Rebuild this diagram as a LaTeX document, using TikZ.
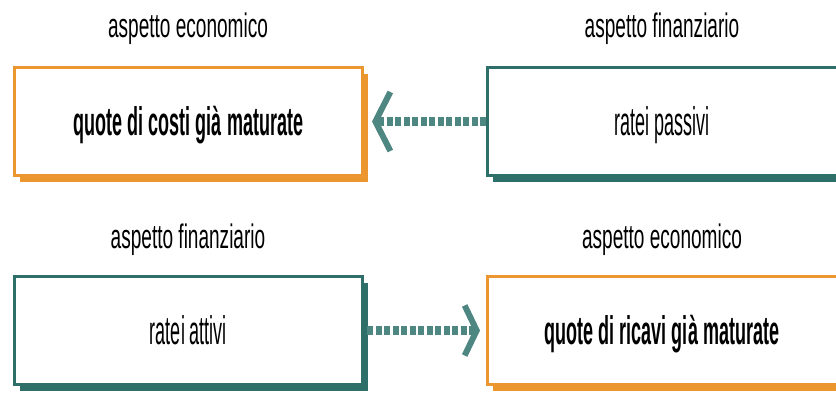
\documentclass[tikz,border=0pt]{standalone}
\usepackage{fontspec}
\setmainfont{Liberation Sans}
\newfontfamily\labelfont[FakeStretch=0.56]{Liberation Sans}
\newfontfamily\boxfont[FakeStretch=0.45]{Liberation Sans}
\usetikzlibrary{arrows.meta,shadows}
\definecolor{ecoorange}{HTML}{EC962F}
\definecolor{finteal}{HTML}{2E6F6A}
\definecolor{arrowteal}{HTML}{4E8682}
\begin{document}
\begin{tikzpicture}[x=1pt,y=-1pt,
  card/.style={draw=#1, line width=3pt, fill=white,
    minimum width=348pt, minimum height=108pt, inner sep=0pt,
    text height=32pt, text depth=4pt,
    font=\boxfont\fontsize{40}{44}\selectfont,
    drop shadow={shadow xshift=5pt, shadow yshift=-7pt, fill=#1, opacity=1}},
  wide/.style={minimum width=356pt},
  heading/.style={anchor=base, inner sep=0pt,
    font=\labelfont\fontsize{34}{38}\selectfont},
  flow/.style={draw=arrowteal, line width=9pt, dash pattern=on 6pt off 2.5pt}]
\useasboundingbox (0,0) rectangle (836,395);

% headings
\node[heading] (h1) at (188,38) {aspetto economico};
\node[heading] (h2) at (662,38) {aspetto finanziario};
\node[heading] (h3) at (188,249) {aspetto finanziario};
\node[heading] (h4) at (662,249) {aspetto economico};

% boxes (the right-hand ones run past the page edge)
\node[card=ecoorange] (costi) at (188.5,121.5) {\bfseries quote di costi già maturate};
\node[card=finteal, wide] (passivi) at (665.5,121.5) {\hspace*{-7pt}ratei passivi};
\node[card=finteal] (attivi) at (188.5,330.5) {ratei attivi};
\node[card=ecoorange, wide] (ricavi) at (665.5,330.5) {\hspace*{-7pt}\bfseries quote di ricavi già maturate};

% connectors
\draw[flow, shorten >=8pt,
  -{Straight Barb[length=15pt, width=59pt, line width=6pt]}] (passivi.west) -- (costi.east);
\draw[flow, shorten <=3pt, shorten >=6pt,
  -{Straight Barb[length=12pt, width=50pt, line width=6pt]}] (attivi.east) -- (ricavi.west);
\end{tikzpicture}
\end{document}
